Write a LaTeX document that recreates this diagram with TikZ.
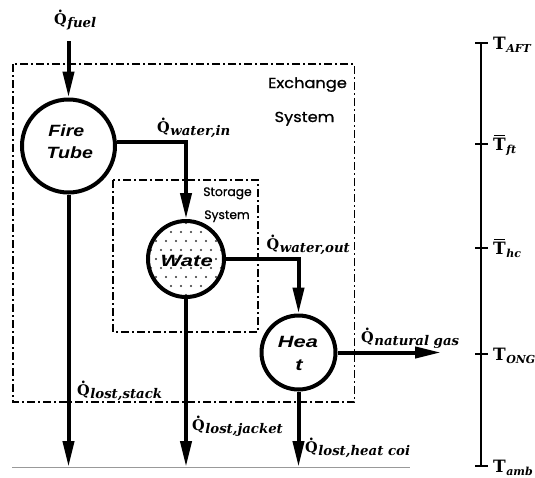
\documentclass[tikz,border=0pt]{standalone}
\usepackage{fontspec}
\usetikzlibrary{arrows.meta}
\newfontfamily\handfont{Poppins}[FakeBold=0.8]
\newfontfamily\arialfont{Liberation Sans}
\newfontfamily\qfont{DejaVu Serif}
\newcommand{\qdot}{\ooalign{Q\cr\hidewidth\raisebox{0.8em}{.}\hidewidth\cr}}
\newcommand{\tbarred}{\ooalign{T\cr\hidewidth\rule[0.86em]{0.66em}{0.07em}\hidewidth\cr}}
\newcommand{\qsym}[1]{{\qfont\fontsize{14.5}{16}\selectfont\bfseries\qdot\kern0.5pt\raisebox{-3.2pt}{\fontsize{13.3}{14}\selectfont\itshape #1}}}
\newcommand{\tsym}[2]{{\qfont\fontsize{17}{18}\selectfont\bfseries #1\kern0.5pt\raisebox{-3pt}{\fontsize{11}{12}\selectfont\itshape #2}}}
\begin{document}
\begin{tikzpicture}[x=1pt,y=-1pt,
  flow/.style={line width=4pt,-{Triangle[length=26pt,width=11pt]}},
  proc/.style={circle,draw,line width=4pt,inner sep=0pt,fill=white},
  sysbox/.style={line width=1.7pt,dash pattern=on 8pt off 3pt on 2pt off 3pt},
  qlab/.style={inner sep=0pt,anchor=base west},
  tlab/.style={inner sep=0pt,anchor=base west},
  proctext/.style={inner sep=0pt,anchor=base,font=\arialfont\bfseries\itshape\fontsize{16.3}{19}\selectfont},
  systext/.style={inner sep=0pt,anchor=base,font=\handfont\fontsize{14.5}{16}\selectfont},
  stortext/.style={inner sep=0pt,anchor=base,font=\handfont\fontsize{12.3}{14}\selectfont},
  scaleline/.style={line width=1.3pt}]
\useasboundingbox (0,0) rectangle (535,477);

% system boundaries
\draw[sysbox] (13,64) rectangle (354.5,402);
\draw[sysbox] (113,180) rectangle (258,332);
\node[systext] (exch1) at (307.5,88) {\scalebox{1.12}[1]{Exchange}};
\node[systext] (exch2) at (304.5,122) {\scalebox{1.12}[1]{System}};
\node[stortext] (stor1) at (227.5,196) {Storage};
\node[stortext] (stor2) at (227,219) {System};

% processes
\node[proc,minimum size=93pt] (ft) at (68.5,146) {};
\node[proctext] (fttxt1) at (66.3,136.7) {\scalebox{1.2}[1]{Fire}};
\node[proctext] (fttxt2) at (69.7,158.3) {\scalebox{1.2}[1]{Tube}};
\node[proc,minimum size=76pt] (wt) at (186,259) {};
\begin{scope}
  \clip (wt.center) circle (36pt);
  \foreach \j in {-4,...,4}{
    \foreach \i in {-4,...,4}{
      \fill[black!80] ([xshift={\i*10+abs(mod(\j,2))*5}, yshift={\j*9}]wt.center) circle (1.05pt);
    }
  }
\end{scope}
\node[proctext] (wttxt) at (186.7,266.5) {\scalebox{1.35}[1]{Wate}};
\node[proc,minimum size=74pt] (ht) at (298.5,352.5) {};
\node[proctext] (httxt1) at (298,347.3) {\scalebox{1.34}[1]{Hea}};
\node[proctext] (httxt2) at (299,370) {\scalebox{1.34}[1]{t}};

% flows
\coordinate (fuelstart) at (68.5,41);
\coordinate (base) at (0,467);
\coordinate (ngend) at (441,0);
\draw[flow] (fuelstart) -- (ft.north);
\draw[flow] (ft.5) -| (wt.north);
\draw[flow] (wt.east) -| (ht.north);
\draw[flow] (ht.east) -- (ht.east -| ngend);
\draw[flow] (ft.south) -- (ft.south |- base);
\draw[flow] (wt.south) -- (wt.south |- base);
\draw[flow] (ht.south) -- (ht.south |- base);

% bottom line
\coordinate (gl1) at (12,467.5);
\coordinate (gl2) at (410,467.5);
\draw[black!40,line width=0.7pt] (gl1) -- (gl2);

% flow labels
\node[qlab] (lfuel) at (54,24.3) {\qsym{fuel}};
\node[qlab] (lwin) at (157,132) {\qsym{water,in}};
\begin{scope}
  \clip (250,215) rectangle (353,265);
  \node[qlab] (lwout) at (266.5,249) {\qsym{water,out}};
\end{scope}
\begin{scope}
  \clip (350,315) rectangle (460,365);
  \node[qlab] (lng) at (361,342) {\qsym{natural gas}};
\end{scope}
\node[qlab] (lstack) at (77,395) {\qsym{lost,stack}};
\node[qlab] (ljacket) at (192,430) {\qsym{lost,jacket}};
\node[qlab] (lcoil) at (305,452) {\qsym{lost,heat coi}};

% temperature scale
\coordinate (st) at (481,43);
\coordinate (sb) at (481,467);
\draw[scaleline] (st) -- (sb);
\foreach \y/\nm/\lab in {43/taft/{\tsym{T}{AFT}},
                         144/tft/{\tsym{\tbarred}{ft}},
                         248/thc/{\tsym{\tbarred}{hc}},
                         354/tong/{\tsym{T}{ONG}},
                         466/tamb/{\tsym{T}{amb}}}{
  \coordinate (k\nm) at (481,\y);
  \draw[scaleline] ([xshift=-6pt]k\nm) -- ([xshift=7pt]k\nm);
  \node[tlab] (\nm) at ([xshift=12pt,yshift=-6.5pt]k\nm) {\lab};
}
\end{tikzpicture}
\end{document}
